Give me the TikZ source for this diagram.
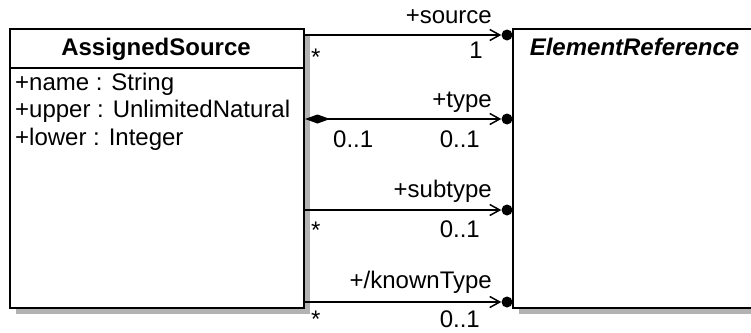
\documentclass[tikz,border=0pt]{standalone}
\usepackage{fontspec}
\setmainfont{Liberation Sans}
\usetikzlibrary{arrows.meta,shadows}

\begin{document}
\begin{tikzpicture}[
    x=1pt, y=-1pt,
    font=\fontsize{24pt}{27.5pt}\selectfont,
    umlclass/.style={
        draw=black,
        line width=2pt,
        fill=white,
        anchor=north west,
        inner sep=0pt,
        minimum height=279pt,
        drop shadow={shadow xshift=6pt, shadow yshift=-6pt, fill=gray!60, opacity=1}
    },
    enddot/.style={
        circle,
        fill=black,
        inner sep=0pt,
        minimum size=11pt
    },
    assoc/.style={-{Straight Barb[length=10pt,width=11pt]}, line width=1.5pt},
    compo/.style={{Diamond[length=25pt,width=9pt]}-{Straight Barb[length=10pt,width=11pt]}, line width=1.5pt},
    lbl/.style={inner sep=0pt}
]
\useasboundingbox (0,0) rectangle (751,332);
\clip (0,0) rectangle (751,332);

% classes
\node[umlclass, minimum width=294pt] (AS) at (9,28) {};
\node[umlclass, minimum width=245pt] (ER) at (512,28) {};
\draw[line width=2pt] (AS.north west) ++(0,40) coordinate (hdr) -- (hdr -| AS.east);

\node[lbl, anchor=base] (AStitle) at (156,55) {\bfseries AssignedSource};
\node[lbl, anchor=base] (ERtitle) at (634.5,55) {\bfseries\itshape ElementReference};

\foreach \attr [count=\i] in {+name : String, +upper : UnlimitedNatural, +lower : Integer}
    \node[lbl, anchor=base west] (attr\i) at (15,{90+27.5*(\i-1)}) {\attr};

% association ends
\node[enddot] (srcend) at (507,35) {};
\node[enddot] (typeend) at (507,119) {};
\node[enddot] (subend) at (507,210) {};
\node[enddot] (knownend) at (507,302) {};

\draw[assoc] (srcend -| AS.east) -- (srcend);
\draw[compo] (typeend -| AS.east) -- (typeend);
\draw[assoc] (subend -| AS.east) -- (subend);
\draw[assoc] (knownend -| AS.east) -- (knownend);

% role names and multiplicities
\node[lbl, anchor=base east] (srcrole) at (492,23) {+source};
\node[lbl, anchor=base east] (srcmult) at (483,58) {1};
\node[lbl, anchor=base west] (srcstar) at (311,65) {*};

\node[lbl, anchor=base east] (typerole) at (492,107) {+type};
\node[lbl, anchor=base east] (typemult) at (480,147) {0..1};
\node[lbl, anchor=base west] (typeown) at (333,147) {0..1};

\node[lbl, anchor=base east] (subrole) at (492,197) {+subtype};
\node[lbl, anchor=base east] (submult) at (480,237) {0..1};
\node[lbl, anchor=base west] (substar) at (311,238) {*};

\node[lbl, anchor=base east] (knownrole) at (492,288) {+/knownType};
\node[lbl, anchor=base east] (knownmult) at (480,327) {0..1};
\node[lbl, anchor=base west] (knownstar) at (311,327) {*};

\end{tikzpicture}
\end{document}
